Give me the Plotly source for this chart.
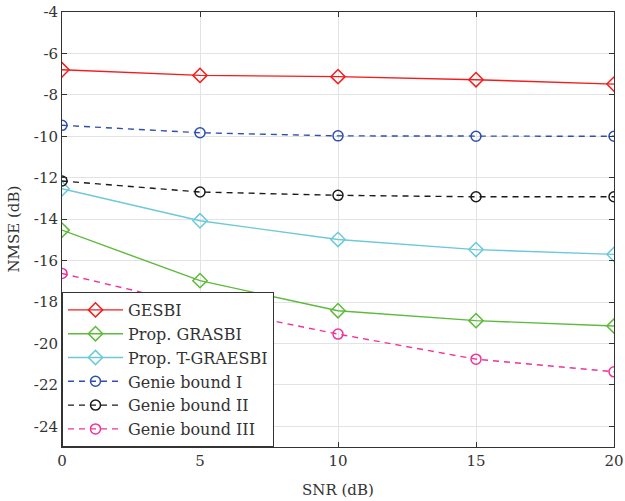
import plotly.graph_objects as go

snr = [0, 5, 10, 15, 20]
gesbi = [-6.79, -7.06, -7.12, -7.27, -7.48]
grasbi = [-14.53, -16.97, -18.42, -18.90, -19.16]
t_graesbi = [-12.53, -14.08, -14.98, -15.47, -15.70]
genie1 = [-9.47, -9.83, -9.98, -10.0, -10.0]
genie2 = [-12.16, -12.69, -12.85, -12.92, -12.92]
genie3 = [-16.62, -18.20, -19.55, -20.76, -21.37]

x_ticks = [0, 5, 10, 15, 20]
y_ticks = [-24, -22, -20, -18, -16, -14, -12, -10, -8, -6, -4]
y_ticklabels = [str(v) for v in y_ticks]

series = [
    ("GESBI", gesbi, "#f51b1b", "solid", "diamond-open"),
    ("Prop. GRASBI", grasbi, "#5dba3b", "solid", "diamond-open"),
    ("Prop. T-GRAESBI", t_graesbi, "#6cc9d9", "solid", "diamond-open"),
    ("Genie bound I", genie1, "#2f4fae", "6px,5px", "circle-open"),
    ("Genie bound II", genie2, "#1a1a1a", "6px,5px", "circle-open"),
    ("Genie bound III", genie3, "#f03399", "6px,5px", "circle-open"),
]

fig = go.Figure()
for name, ys, col, dash, sym in series:
    fig.add_trace(go.Scatter(
        x=snr, y=ys, name=name, mode="lines+markers",
        line=dict(color=col, width=1.4, dash=dash),
        marker=dict(symbol=sym, size=11 if "diamond" in sym else 10,
                    color=col, line=dict(width=1.5, color=col)),
    ))

font_family = "DejaVu Serif, Liberation Serif, serif"
txt_col = "#333333"
axis_common = dict(
    showgrid=True, gridcolor="#e3e3e3", gridwidth=1,
    showline=True, linecolor="#333333", linewidth=1, mirror="ticks",
    ticks="inside", ticklen=5, tickcolor="#333333",
    zeroline=False, automargin=False,
    tickfont=dict(family=font_family, size=15, color=txt_col),
)
fig.update_layout(
    width=625, height=501,
    margin=dict(l=62, r=11, t=12, b=54),
    paper_bgcolor="white", plot_bgcolor="white",
    font=dict(family=font_family, size=15, color=txt_col),
    xaxis=dict(range=[0, 20], tickvals=x_ticks, **axis_common),
    yaxis=dict(range=[-25, -4], tickvals=y_ticks, ticktext=y_ticklabels,
               **axis_common),
    legend=dict(x=0, y=0, xanchor="left", yanchor="bottom",
                bgcolor="white", bordercolor="#333333", borderwidth=1,
                font=dict(family=font_family, size=16, color=txt_col),
                tracegroupgap=0, itemwidth=55),
    showlegend=True,
    annotations=[
        dict(text="SNR (dB)", xref="paper", yref="paper", x=0.5, y=0,
             xanchor="center", yanchor="top", yshift=-32, showarrow=False,
             font=dict(family=font_family, size=15, color=txt_col)),
        dict(text="NMSE (dB)", xref="paper", yref="paper", x=0, y=0.5,
             xanchor="right", yanchor="middle", xshift=-38, textangle=-90,
             showarrow=False,
             font=dict(family=font_family, size=15, color=txt_col)),
    ],
)

fig.write_html("out.html", config={"displayModeBar": False},
               post_script="document.body.style.margin='0';document.body.style.overflow='hidden';")
